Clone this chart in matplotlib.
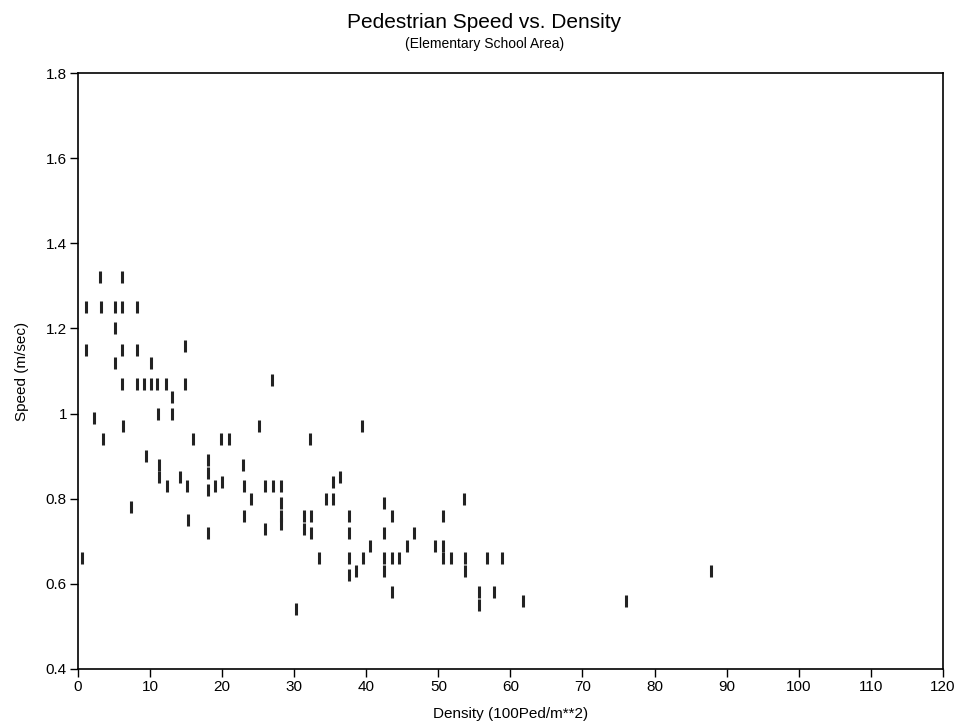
import matplotlib
matplotlib.use('Agg')
import matplotlib.pyplot as plt

plt.rcParams['font.family'] = ['Liberation Sans', 'DejaVu Sans']

# densidade (100Ped/m**2) e velocidade (m/sec)
density = [3.05, 6.1,
           1.07, 3.15, 5.2, 6.1, 8.2,
           5.2,
           1.07, 6.1, 8.2, 14.9,
           5.2, 10.1,
           6.1, 8.2, 9.15, 10.1, 11.0, 12.2, 14.9,
           13.1, 13.1, 11.1,
           2.2, 6.3, 3.4, 16.0,
           25.1, 19.9, 21.0, 9.4,
           11.2, 11.2, 12.3, 14.1, 15.1,
           18.0, 18.0, 18.0, 19.0, 20.0,
           22.9, 23.0, 24.0, 23.0,
           7.4, 15.2, 18.1, 0.5,
           26.9, 39.4, 32.2,
           26.0, 27.0, 28.1,
           28.1, 28.1, 28.1,
           26.0, 31.3, 32.3, 31.3, 32.3,
           33.4, 30.3, 34.4, 35.4, 35.4, 36.4,
           37.6, 37.6, 37.6, 37.6, 38.6, 39.6, 40.5,
           42.5, 43.5, 42.5, 42.5, 42.5, 43.6, 44.5, 43.6,
           45.6, 46.6, 53.6, 50.6, 49.6, 50.6, 50.6, 51.7,
           53.7, 53.7, 56.7, 58.8, 55.7, 55.7, 57.7, 61.8,
           76.0, 87.9]
speed = [1.32, 1.32,
         1.25, 1.25, 1.25, 1.25, 1.25,
         1.2,
         1.15, 1.15, 1.15, 1.16,
         1.12, 1.12,
         1.07, 1.07, 1.07, 1.07, 1.07, 1.07, 1.07,
         1.04, 1.0, 1.0,
         0.99, 0.97, 0.94, 0.94,
         0.97, 0.94, 0.94, 0.9,
         0.88, 0.85, 0.83, 0.85, 0.83,
         0.89, 0.86, 0.82, 0.83, 0.84,
         0.88, 0.83, 0.8, 0.76,
         0.78, 0.75, 0.72, 0.66,
         1.08, 0.97, 0.94,
         0.83, 0.83, 0.83,
         0.79, 0.76, 0.74,
         0.73, 0.76, 0.76, 0.73, 0.72,
         0.66, 0.54, 0.8, 0.84, 0.8, 0.85,
         0.76, 0.72, 0.66, 0.62, 0.63, 0.66, 0.69,
         0.79, 0.76, 0.72, 0.66, 0.63, 0.66, 0.66, 0.58,
         0.69, 0.72, 0.8, 0.76, 0.69, 0.69, 0.66, 0.66,
         0.66, 0.63, 0.66, 0.66, 0.58, 0.55, 0.58, 0.56,
         0.56, 0.63]

x_ticks = list(range(0, 121, 10))
y_ticks = [0.4, 0.6, 0.8, 1.0, 1.2, 1.4, 1.6, 1.8]
y_labels = ['0.4', '0.6', '0.8', '1', '1.2', '1.4', '1.6', '1.8']

fig = plt.figure(figsize=(9.69, 7.24), dpi=100)
ax = fig.add_axes([0.0805, 0.076, 0.8925, 0.823])

ax.plot(density, speed, linestyle='none', marker='|', markersize=8.5,
        markeredgewidth=2.2, color='#222222')

ax.set_xlim(0, 120)
ax.set_ylim(0.4, 1.8)
ax.set_xticks(x_ticks)
ax.set_yticks(y_ticks)
ax.set_yticklabels(y_labels)
ax.tick_params(direction='out', length=6, width=1, labelsize=11, pad=2)
for s in ax.spines.values():
    s.set_linewidth(1.2)

ax.set_xlabel('Density (100Ped/m**2)', fontsize=11, labelpad=9)
ax.set_ylabel('Speed (m/sec)', fontsize=11, labelpad=12)

fig.text(0.5, 0.962, 'Pedestrian Speed vs. Density', ha='center', fontsize=15)
fig.text(0.5, 0.934, '(Elementary School Area)', ha='center', fontsize=10)

fig.savefig('out.png', dpi=100)
